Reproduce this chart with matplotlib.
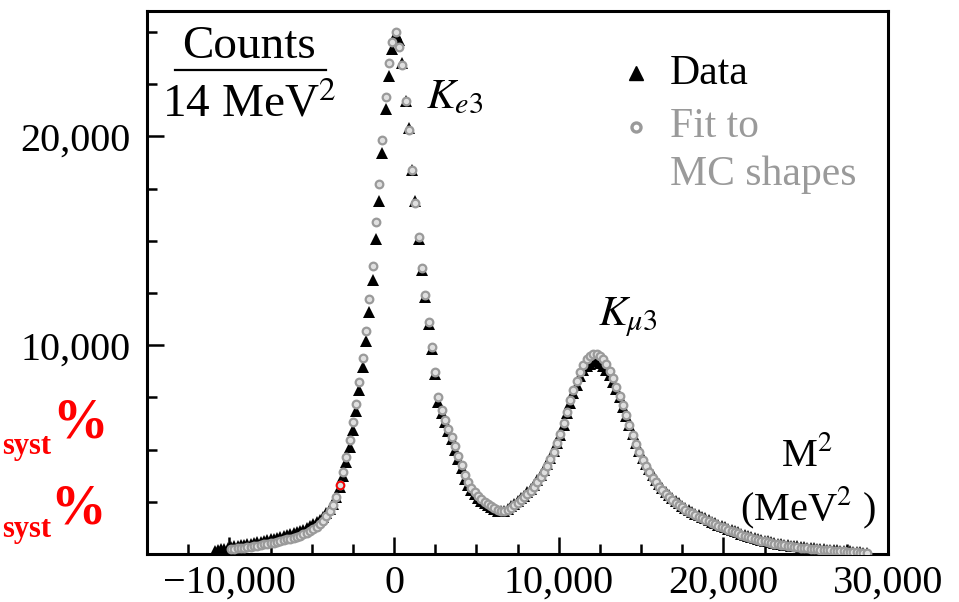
import numpy as np
import matplotlib
matplotlib.use("Agg")
import matplotlib.pyplot as plt
from matplotlib.ticker import FixedLocator, MultipleLocator, FuncFormatter
from matplotlib.lines import Line2D

plt.rcParams['font.family'] = ['Liberation Serif', 'DejaVu Serif']
plt.rcParams['mathtext.fontset'] = 'stix'

# bin centres, 200 MeV^2 wide
m2 = np.arange(-10900, 28701, 200)

# data, thousands of counts per bin
data_k = [
    0.12, 0.18, 0.22, 0.26, 0.30, 0.33, 0.36, 0.39, 0.42, 0.45,
    0.47, 0.50, 0.53, 0.56, 0.59, 0.62, 0.66, 0.70, 0.74, 0.78,
    0.82, 0.86, 0.90, 0.95, 1.00, 1.05, 1.10, 1.17, 1.25, 1.33,
    1.42, 1.52, 1.64, 1.78, 1.95, 2.15, 2.40, 2.75, 3.20, 3.75,
    4.40, 5.10, 5.95, 6.85, 7.85, 8.95, 10.2, 11.6, 13.1, 15.1,
    16.9, 19.2, 21.3, 22.9, 24.2, 24.9, 24.6, 23.5, 21.7, 20.4,
    18.4, 16.9, 15.1, 13.6, 12.3, 11.0, 9.8, 8.6, 7.3, 6.75,
    6.3, 5.9, 5.5, 5.0, 4.55, 4.1, 3.6, 3.3, 3.05, 2.85,
    2.70, 2.55, 2.43, 2.33, 2.24, 2.16, 2.08, 2.04, 2.05, 2.15,
    2.28, 2.40, 2.52, 2.66, 2.80, 2.95, 3.12, 3.32, 3.53, 3.76,
    4.02, 4.30, 4.60, 4.95, 5.32, 5.72, 6.20, 6.75, 7.25, 7.70,
    8.10, 8.50, 8.80, 9.00, 9.12, 9.22, 9.25, 9.15, 9.00, 8.80,
    8.55, 8.25, 7.90, 7.50, 7.05, 6.60, 6.20, 5.75, 5.30, 4.95,
    4.62, 4.32, 4.05, 3.78, 3.54, 3.35, 3.17, 2.98, 2.82, 2.68,
    2.55, 2.42, 2.31, 2.20, 2.10, 2.01, 1.93, 1.85, 1.78, 1.71,
    1.62, 1.55, 1.48, 1.41, 1.35, 1.28, 1.22, 1.16, 1.10, 1.04,
    0.98, 0.92, 0.87, 0.82, 0.77, 0.72, 0.68, 0.64, 0.60, 0.56,
    0.53, 0.50, 0.47, 0.44, 0.42, 0.40, 0.38, 0.36, 0.34, 0.32,
    0.30, 0.28, 0.27, 0.25, 0.24, 0.22, 0.21, 0.20, 0.19, 0.17,
    0.16, 0.15, 0.13, 0.12, 0.11, 0.10, 0.08, 0.07, 0.05,
]

# fit to MC shapes, same bins
nan = np.nan
fit_k = [
    nan, nan, nan, nan, nan, 0.22, 0.25, 0.27, 0.29, 0.31,
    0.33, 0.35, 0.38, 0.40, 0.43, 0.46, 0.49, 0.52, 0.55, 0.58,
    0.62, 0.66, 0.70, 0.74, 0.78, 0.83, 0.88, 0.94, 1.01, 1.09,
    1.18, 1.29, 1.42, 1.58, 1.80, 2.05, 2.35, 2.75, 3.30, 3.95,
    4.65, 5.45, 6.30, 7.20, 8.25, 9.40, 10.7, 12.2, 13.8, 15.9,
    17.7, 19.8, 21.9, 23.5, 24.5, 25.0, 24.3, 23.4, 21.7, 20.3,
    18.4, 16.8, 15.2, 13.7, 12.4, 11.1, 9.9, 8.7, 7.5, 6.9,
    6.4, 6.0, 5.6, 5.15, 4.7, 4.25, 3.8, 3.45, 3.18, 2.96,
    2.80, 2.64, 2.50, 2.39, 2.29, 2.20, 2.12, 2.07, 2.06, 2.12,
    2.22, 2.33, 2.45, 2.58, 2.72, 2.87, 3.04, 3.23, 3.44, 3.68,
    3.94, 4.22, 4.54, 4.90, 5.30, 5.75, 6.25, 6.80, 7.35, 7.85,
    8.30, 8.72, 9.05, 9.32, 9.48, 9.58, 9.60, 9.50, 9.32, 9.08,
    8.78, 8.42, 8.02, 7.58, 7.12, 6.65, 6.18, 5.72, 5.28, 4.88,
    4.52, 4.20, 3.92, 3.66, 3.43, 3.23, 3.05, 2.88, 2.73, 2.59,
    2.46, 2.34, 2.23, 2.13, 2.03, 1.94, 1.86, 1.78, 1.71, 1.64,
    1.57, 1.50, 1.43, 1.36, 1.30, 1.23, 1.17, 1.11, 1.05, 0.99,
    0.93, 0.88, 0.83, 0.78, 0.73, 0.68, 0.64, 0.60, 0.56, 0.53,
    0.50, 0.47, 0.44, 0.41, 0.39, 0.37, 0.35, 0.33, 0.31, 0.29,
    0.27, 0.26, 0.24, 0.23, 0.21, 0.20, 0.19, 0.17, 0.16, 0.15,
    0.14, 0.13, 0.11, 0.10, 0.09, 0.08, 0.07, 0.05, 0.04,
]

data = np.array(data_k) * 1000
fit = np.array(fit_k) * 1000

grey = '#9a9a9a'

fig = plt.figure(figsize=(9.59, 6.02), dpi=100)
ax = fig.add_axes([147 / 959, 1 - 554 / 602, 741 / 959, 543 / 602])

ax.plot(m2, data, '^', color='black', ms=8.5, mew=0, zorder=3)
ax.plot(m2, fit, 'o', mfc='#e0e0e0', mec=grey, ms=5.5, mew=1.6, zorder=4)
# stray red marker on one fit point
ax.plot(m2[38], fit[38], 'o', mfc='none', mec='red', ms=5.5, mew=1.3, zorder=5)

ax.set_xlim(-15000, 30000)
ax.set_ylim(0, 26000)

fmt = FuncFormatter(lambda v, p: ('\u2212' if v < 0 else '') + f'{abs(int(v)):,}')
ax.xaxis.set_major_locator(FixedLocator([-10000, 0, 10000, 20000, 30000]))
ax.xaxis.set_minor_locator(MultipleLocator(2500))
ax.yaxis.set_major_locator(FixedLocator([10000, 20000]))
ax.yaxis.set_minor_locator(MultipleLocator(2500))
ax.xaxis.set_major_formatter(fmt)
ax.yaxis.set_major_formatter(fmt)

ax.tick_params(which='both', direction='in', width=1.8, labelsize=29,
               top=False, right=False)
ax.tick_params(which='major', length=12)
ax.tick_params(which='minor', length=7)
ax.tick_params(axis='x', pad=8)
ax.tick_params(axis='y', pad=12)
for s in ax.spines.values():
    s.set_linewidth(2.2)

# y label as a fraction in the corner
ax.text(0.137, 0.935, 'Counts', transform=ax.transAxes, ha='center',
        va='center', fontsize=34)
ax.add_line(Line2D([0.038, 0.241], [0.891, 0.891], transform=ax.transAxes,
                   color='black', lw=1.6))
ax.text(0.138, 0.828, '14 MeV$^2$', transform=ax.transAxes, ha='center',
        va='center', fontsize=34)

ax.text(0.377, 0.84, '$K_{e3}$', transform=ax.transAxes, ha='left',
        va='center', fontsize=31)
ax.text(0.609, 0.435, '$K_{\\mu 3}$', transform=ax.transAxes, ha='left',
        va='center', fontsize=31)

# x label in the lower right corner
ax.text(0.89, 0.18, 'M$^2$', transform=ax.transAxes, ha='center',
        va='center', fontsize=29)
ax.text(0.892, 0.085, '(MeV$^2$ )', transform=ax.transAxes, ha='center',
        va='center', fontsize=29)

# legend drawn by hand
ax.plot([0.66], [0.885], '^', color='black', ms=10, transform=ax.transAxes)
ax.text(0.706, 0.885, 'Data', transform=ax.transAxes, ha='left',
        va='center', fontsize=30)
ax.plot([0.66], [0.787], 'o', mfc='white', mec=grey, ms=6.5, mew=2.4,
        transform=ax.transAxes)
ax.text(0.706, 0.787, 'Fit to', transform=ax.transAxes, ha='left',
        va='center', fontsize=30, color=grey)
ax.text(0.706, 0.699, 'MC shapes', transform=ax.transAxes, ha='left',
        va='center', fontsize=30, color=grey)

# red annotations at the left edge
fig.text(2 / 959, 1 - 454 / 602, 'syst', ha='left', va='baseline',
         fontsize=22, fontweight='bold', color='red')
fig.text(52 / 959, 1 - 438 / 602, '%', ha='left', va='baseline',
         fontsize=40, fontweight='bold', color='red')
fig.text(2 / 959, 1 - 537 / 602, 'syst', ha='left', va='baseline',
         fontsize=22, fontweight='bold', color='red')
fig.text(50 / 959, 1 - 523 / 602, '%', ha='left', va='baseline',
         fontsize=40, fontweight='bold', color='red')

fig.savefig('out.png', dpi=100)
